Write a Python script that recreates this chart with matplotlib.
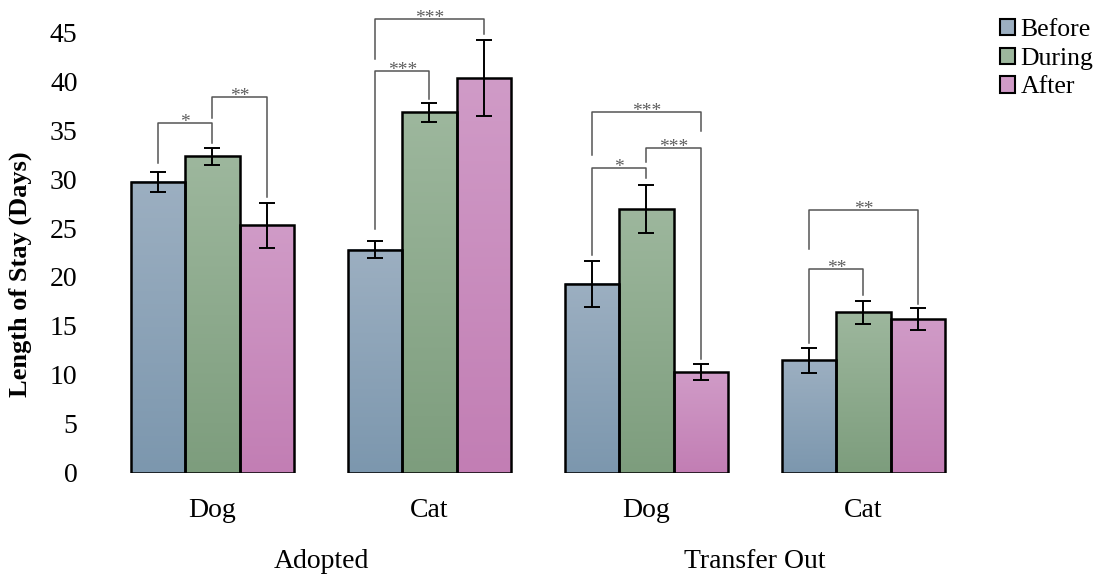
import numpy as np
import matplotlib.pyplot as plt
import matplotlib.colors as mcolors
from matplotlib.patches import Patch

# data
groups = ["Adopted", "Transfer Out"]
species = ["Dog", "Cat", "Dog", "Cat"]
periods = ["Before", "During", "After"]
before = [29.7, 22.8, 19.3, 11.5]
during = [32.3, 36.8, 26.9, 16.4]
after = [25.3, 40.3, 10.3, 15.7]
err_before = [1.05, 0.85, 2.35, 1.3]
err_during = [0.9, 0.95, 2.45, 1.2]
err_after = [2.3, 3.9, 0.8, 1.15]

# significance brackets: (category, bar a, bar b, top y, leg a end, leg b end, label)
brackets = [
    (0, 0, 1, 35.7, 31.6, 33.7, "*"),
    (0, 1, 2, 38.4, 36.2, 28.2, "**"),
    (1, 0, 1, 41.0, 24.9, 38.2, "***"),
    (1, 0, 2, 46.3, 42.2, 44.8, "***"),
    (2, 0, 1, 31.1, 22.2, 30.1, "*"),
    (2, 1, 2, 33.2, 31.7, 11.6, "***"),
    (2, 0, 2, 36.8, 32.5, 34.9, "***"),
    (3, 0, 1, 20.85, 13.3, 18.2, "**"),
    (3, 0, 2, 26.8, 22.9, 17.2, "**"),
]

top_cols = ["#9cafc1", "#9db79d", "#d09bc7"]
bot_cols = ["#7c97ae", "#7d9d7d", "#c27eb4"]

plt.rcParams["font.family"] = ["Liberation Serif", "DejaVu Serif"]

fig = plt.figure(figsize=(10.97, 5.78), dpi=100)
ax = fig.add_axes([0.0948, 0.1817, 0.886 - 0.0948, 0.9446 - 0.1817])

w = 0.25
x = np.arange(len(species))
series = [before, during, after]
errs = [err_before, err_during, err_after]

for k in range(3):
    xs = x + (k - 1) * w
    cmap = mcolors.LinearSegmentedColormap.from_list("g%d" % k, [bot_cols[k], top_cols[k]])
    grad = np.linspace(0, 1, 128).reshape(-1, 1)
    for xi, h in zip(xs, series[k]):
        ax.imshow(grad, extent=[xi - w / 2, xi + w / 2, 0, h], origin="lower",
                  cmap=cmap, aspect="auto", zorder=1)
    ax.bar(xs, series[k], width=w, facecolor="none", edgecolor="black",
           linewidth=1.8, zorder=2)
    ax.errorbar(xs, series[k], yerr=errs[k], fmt="none", ecolor="black",
                elinewidth=1.4, capsize=5.5, capthick=1.4, zorder=3)

# brackets
for cat, a, b, ytop, ya, yb, lab in brackets:
    xa = x[cat] + (a - 1) * w
    xb = x[cat] + (b - 1) * w
    ax.plot([xa, xa, xb, xb], [ya, ytop, ytop, yb], color="#555555",
            linewidth=1.1, clip_on=False, zorder=4)
    ax.text((xa + xb) / 2, ytop - 0.4, lab, ha="center", va="baseline",
            fontsize=14, color="#5e5e5e", clip_on=False)

ax.set_xlim(-0.5, 3.5)
ax.set_ylim(0, 45)
ax.set_yticks(np.arange(0, 46, 5))
ax.set_xticks(x)
ax.set_xticklabels(species)
ax.tick_params(axis="both", length=0, labelsize=20)
ax.tick_params(axis="x", pad=18)
ax.tick_params(axis="y", pad=19)
for s in ["top", "right", "left", "bottom"]:
    ax.spines[s].set_visible(False)
ax.set_ylabel("Length of Stay (Days)", fontsize=19, fontweight="bold")
ax.yaxis.set_label_coords(-0.083, 0.45)

# group labels under the categories
ax.text(0.5, -0.2, groups[0], transform=ax.get_xaxis_transform(), ha="center",
        va="center", fontsize=20)
ax.text(2.5, -0.2, groups[1], transform=ax.get_xaxis_transform(), ha="center",
        va="center", fontsize=20)

handles = [Patch(facecolor=c, edgecolor="black", linewidth=1.5) for c in top_cols]
fig.legend(handles, periods, loc="upper left", bbox_to_anchor=(0.902, 0.985),
           frameon=False, fontsize=18.5, handlelength=0.6, handleheight=0.6,
           handletextpad=0.2, labelspacing=0.25, borderaxespad=0)

fig.savefig("out.png", dpi=100)
